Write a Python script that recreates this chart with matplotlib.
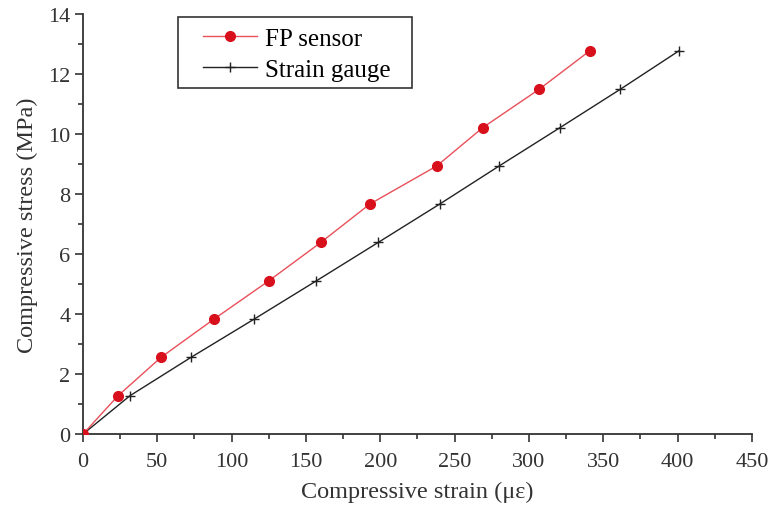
import matplotlib
matplotlib.use("Agg")
import matplotlib.pyplot as plt
from matplotlib.ticker import MultipleLocator
from matplotlib.patches import Rectangle

plt.rcParams['font.family'] = ['Liberation Serif', 'DejaVu Serif']

fp_strain = [0, 23.6, 52.5, 88, 125, 160, 193, 238, 269, 307, 341]
fp_stress = [0, 1.28, 2.56, 3.83, 5.11, 6.39, 7.67, 8.94, 10.22, 11.5, 12.78]
sg_strain = [0, 31.6, 72.7, 115, 157, 198.6, 240, 280, 321, 361.6, 401]
sg_stress = [0, 1.28, 2.56, 3.83, 5.11, 6.39, 7.67, 8.94, 10.22, 11.5, 12.78]

fig = plt.figure(figsize=(7.68, 5.06), dpi=100)
ax = fig.add_axes([0.108, 0.140, 0.871, 0.830])

ax.plot(sg_strain, sg_stress, color='#222222', lw=1.0, marker='+', ms=7,
        mew=1.0, label='Strain gauge', zorder=2)
ax.plot(fp_strain, fp_stress, color='#e8505a', lw=1.0, marker='o', ms=7,
        mfc='#d8101c', mec='#d8101c', label='FP sensor', zorder=3)

ax.set_xlim(0, 450)
ax.set_ylim(0, 14)
ax.xaxis.set_major_locator(MultipleLocator(50))
ax.xaxis.set_minor_locator(MultipleLocator(25))
ax.yaxis.set_major_locator(MultipleLocator(2))
ax.yaxis.set_minor_locator(MultipleLocator(1))
ax.spines['top'].set_visible(False)
ax.spines['right'].set_visible(False)
for s in ['left', 'bottom']:
    ax.spines[s].set_linewidth(1.3)
    ax.spines[s].set_color('#333333')
ax.tick_params(which='major', direction='out', length=6, width=1.2,
               labelsize=16, colors='#333333', labelcolor='#333333')
ax.tick_params(axis='x', which='major', pad=7)
ax.tick_params(axis='y', which='major', pad=3)
ax.tick_params(which='minor', direction='out', length=3.5, width=1.2,
               colors='#333333')

ax.set_xlabel('Compressive strain (\u03bc\u03b5)', fontsize=17.5, color='#333333', labelpad=7)
ax.set_ylabel('Compressive stress (MPa)', fontsize=17.5, color='#333333', labelpad=7)

# legend frame (wider horizontal padding as in the reference)
ax.add_patch(Rectangle((0.142, 0.824), 0.350, 0.169, transform=ax.transAxes,
                       fill=True, facecolor='white', edgecolor='#333333',
                       lw=1.2, zorder=4, clip_on=False))
handles, labels = ax.get_legend_handles_labels()
leg = ax.legend(handles[::-1], labels[::-1], loc='upper left',
                bbox_to_anchor=(0.180, 0.968), borderaxespad=0, fontsize=18,
                frameon=False, handlelength=2.15, handletextpad=0.3,
                borderpad=0.0, labelspacing=0.32)
leg.set_zorder(5)

fig.savefig('out.png', dpi=100)
